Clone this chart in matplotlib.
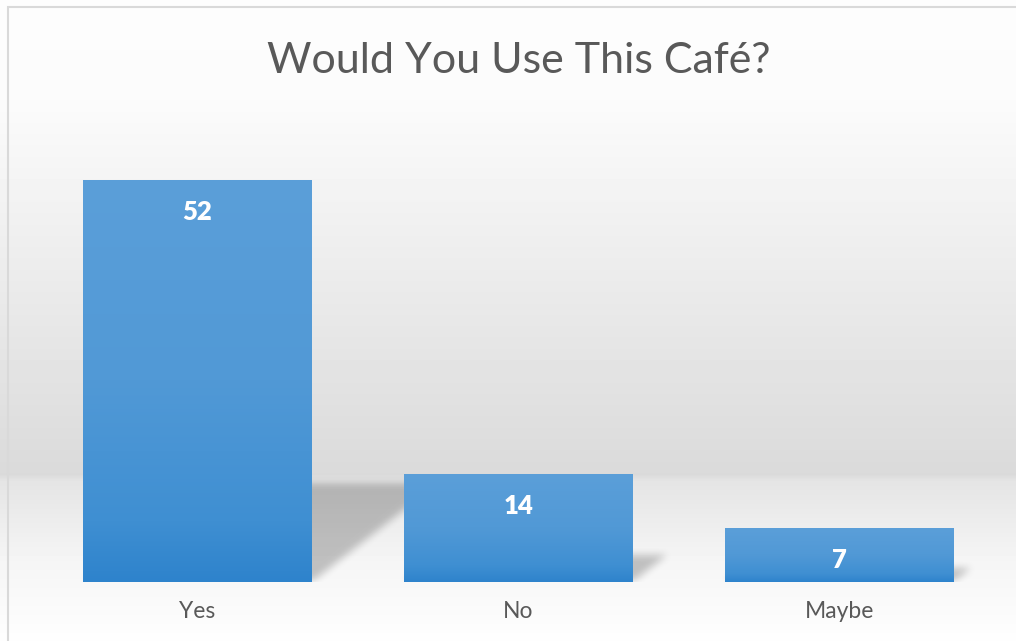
import matplotlib.pyplot as plt
import numpy as np
from matplotlib.colors import LinearSegmentedColormap
from matplotlib.patches import Rectangle
from matplotlib.path import Path

categories = ['Yes', 'No', 'Maybe']
answers = [52, 14, 7]

plt.rcParams['font.family'] = ['Lato', 'DejaVu Sans']

W, H = 1016, 641
fig = plt.figure(figsize=(W / 100, H / 100), dpi=100)

# background: white at top, grey "wall" band, light floor
bg = fig.add_axes([0, 0, 1, 1], zorder=0)
bg.axis('off')
yy = np.arange(H)
vals = np.interp(yy, [0, 100, 474, 480, 560, 641],
                 [253, 251, 218, 228, 245, 254])
bg.imshow((vals / 255.0)[:, None].repeat(4, axis=1), cmap='gray', vmin=0, vmax=1,
          aspect='auto', extent=(0, 1, 0, 1), origin='upper')
bg.set_xlim(0, 1)
bg.set_ylim(0, 1)

# frame
fig.patches.append(Rectangle((7.5 / W, -0.1), 1.2, (H - 6.5) / H + 0.1,
                             transform=fig.transFigure, fill=False,
                             edgecolor='#d9d9d9', linewidth=1.5, zorder=1))

ax = fig.add_axes([37 / W, 59 / H, 963 / W, 464 / H], zorder=2)
ax.patch.set_alpha(0)
ax.set_xlim(-0.5, 2.5)
ax.set_ylim(0, 60)
x = np.arange(len(categories))
bw = 0.713

bars = ax.bar(x, answers, width=bw, facecolor='none', linewidth=0, zorder=3)

# perspective shadows
nx, ny = 963, 464
xs = np.linspace(-0.5, 2.5, nx)
ys = np.linspace(0, 60, ny)
gx, gy = np.meshgrid(xs, ys)
pts = np.column_stack([gx.ravel(), gy.ravel()])
mask = np.zeros(gx.shape)
px_y = 60 / ny
px_x = 3 / nx
for xi, v in zip(x, answers):
    sh = 0.246 * v
    dx = 1.28 * (sh / px_y) * px_x
    poly = Path([(xi - bw / 2, 0), (xi + bw / 2, 0),
                 (xi + bw / 2 + dx, sh), (xi - bw / 2 + dx, sh)])
    mask = np.maximum(mask, poly.contains_points(pts).reshape(gx.shape))


def blur(a, r):
    k = np.ones(2 * r + 1) / (2 * r + 1)
    a = np.apply_along_axis(lambda m: np.convolve(m, k, mode='same'), 0, a)
    a = np.apply_along_axis(lambda m: np.convolve(m, k, mode='same'), 1, a)
    return a


mask = blur(blur(mask, 4), 4)
shadow = np.zeros((ny, nx, 4))
shadow[..., 3] = mask * 0.22
ax.imshow(shadow, extent=(-0.5, 2.5, 0, 60), origin='lower', aspect='auto',
          zorder=1, interpolation='bilinear')

# gradient bars
cmap = LinearSegmentedColormap.from_list(
    'bar', [(0, '#2e83cc'), (0.15, '#3f8fd2'), (0.5, '#5199d6'), (1, '#5b9fd9')])
grad = np.linspace(0, 1, 256)[:, None]
for rect in bars:
    x0, y0 = rect.get_x(), rect.get_y()
    im = ax.imshow(grad, cmap=cmap, origin='lower', aspect='auto',
                   extent=(x0, x0 + rect.get_width(), y0, y0 + rect.get_height()),
                   zorder=3)
    im.set_clip_path(rect)

ax.set_xlim(-0.5, 2.5)
ax.set_ylim(0, 60)

for xi, v in zip(x, answers):
    ax.annotate(str(v), xy=(xi, v), xytext=(0, -23), textcoords='offset points',
                ha='center', va='center', color='white', fontsize=18.5,
                fontweight='heavy', zorder=5)

ax.set_xticks(x, labels=categories)
ax.set_yticks([])
ax.tick_params(axis='x', length=0, labelsize=16.5, labelcolor='#595959', pad=14)
for s in ax.spines.values():
    s.set_visible(False)

fig.text(519 / W, 1 - 61 / H, 'Would You Use This Café?', ha='center',
         va='center', fontsize=31, color='#595959')

fig.savefig('out.png', dpi=100)
